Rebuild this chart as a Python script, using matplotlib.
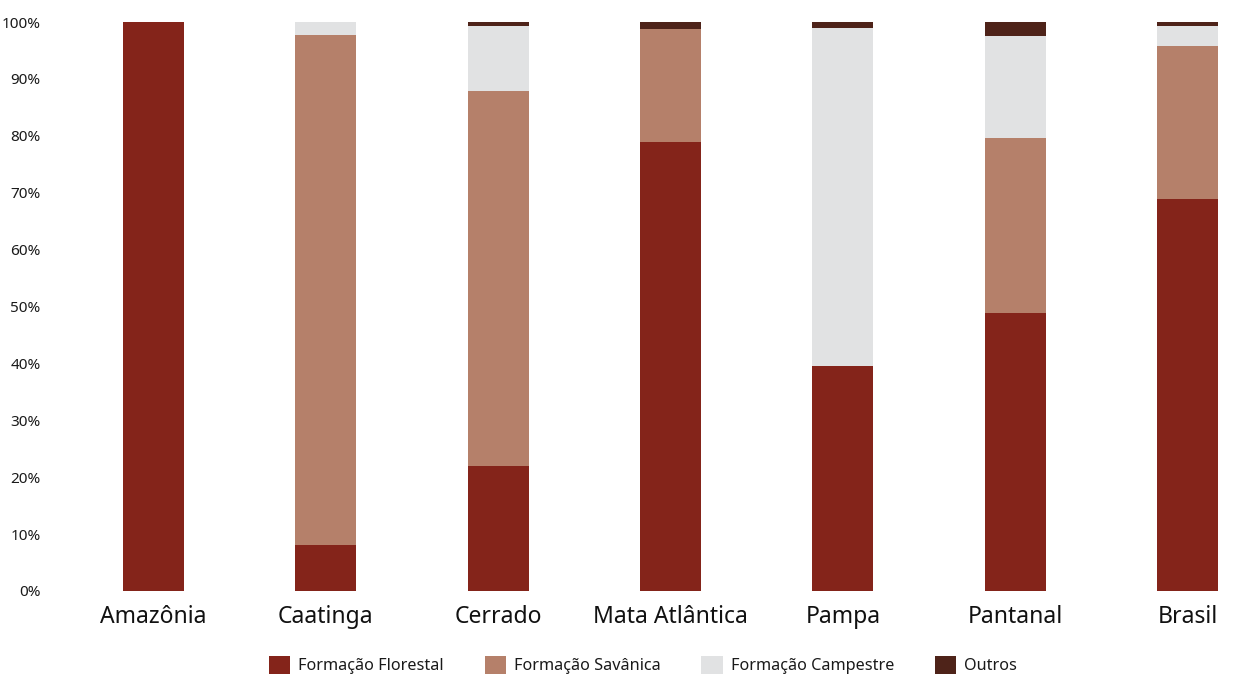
import matplotlib
matplotlib.use("Agg")
import matplotlib.pyplot as plt
from matplotlib.patches import Patch
import numpy as np

biomas = ["Amazônia", "Caatinga", "Cerrado", "Mata Atlântica", "Pampa", "Pantanal", "Brasil"]
florestal = [100.0, 8.1, 22.0, 78.9, 39.5, 48.9, 68.9]
savanica = [0.0, 89.6, 65.9, 19.9, 0.0, 30.7, 26.9]
campestre = [0.0, 2.3, 11.4, 0.0, 59.4, 17.9, 3.5]
outros = [0.0, 0.0, 0.7, 1.2, 1.1, 2.5, 0.7]

series = ["Formação Florestal", "Formação Savânica", "Formação Campestre", "Outros"]
colors = ["#84241a", "#b5806a", "#e1e2e3", "#4e2319"]

plt.rcParams["font.family"] = ["Noto Sans", "DejaVu Sans"]

fig = plt.figure(figsize=(12.33, 6.75), dpi=100)
ax = fig.add_axes([60 / 1233, 84 / 675, 1173 / 1233, 569 / 675])

x = np.arange(len(biomas))
bottom = np.zeros(len(biomas))
for vals, col, name in zip([florestal, savanica, campestre, outros], colors, series):
    vals = np.array(vals)
    ax.bar(x, vals, width=0.355, bottom=bottom, color=col, label=name, linewidth=0)
    bottom += vals

ax.set_xlim(-0.5426, 6.264)
ax.set_ylim(0, 100)
ax.set_yticks(np.arange(0, 101, 10))
ax.set_yticklabels([f"{v}%" for v in range(0, 101, 10)], fontsize=11, color="#1a1a1a")
ax.set_xticks(x)
ax.set_xticklabels(biomas, fontsize=16.5, color="#111111")
ax.tick_params(axis="both", length=0)
ax.tick_params(axis="y", pad=14)
ax.tick_params(axis="x", pad=10)
for s in ax.spines.values():
    s.set_visible(False)

handles = [Patch(facecolor=c, edgecolor="none") for c in colors]
fig.legend(handles, series, loc="center", bbox_to_anchor=(643 / 1233, 1 - 665 / 675),
           ncol=4, frameon=False, fontsize=11.7, handlelength=1.3, handleheight=1.3,
           handletextpad=0.5, columnspacing=2.5, labelcolor="#1a1a1a")

fig.savefig("out.png", dpi=100)
